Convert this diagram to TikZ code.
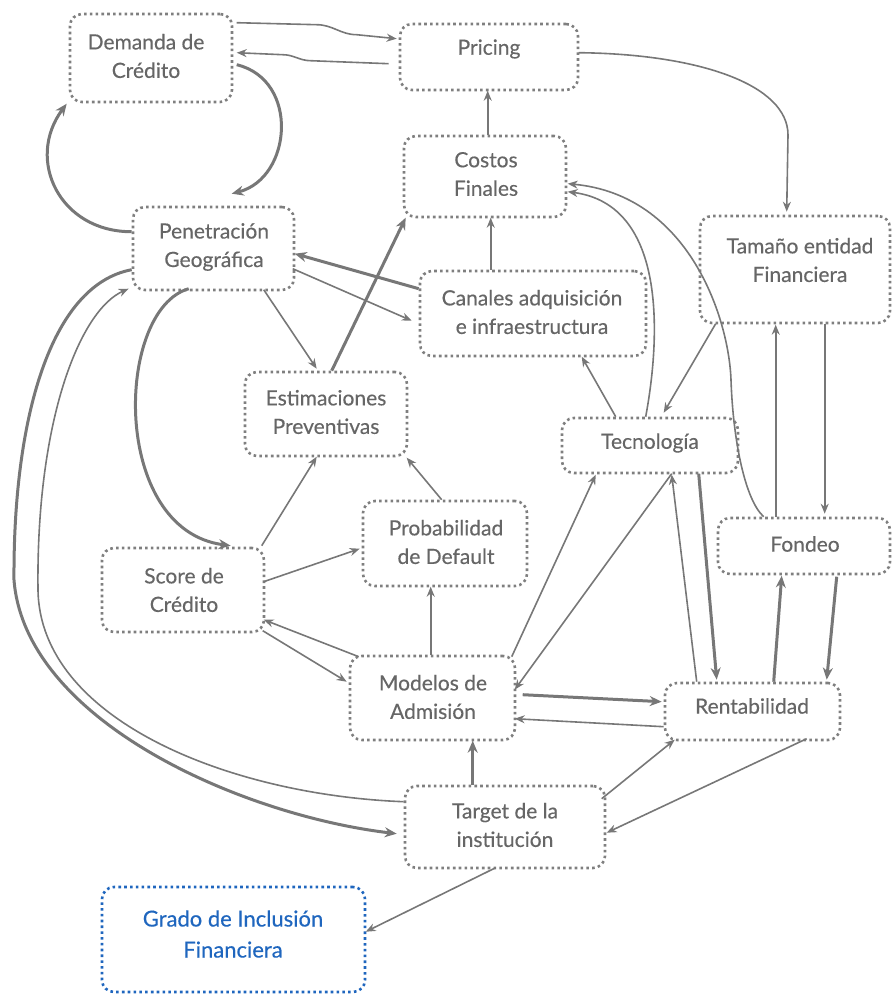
\documentclass[tikz,border=0pt]{standalone}
\usepackage{fontspec}
\setmainfont{Lato}
\newfontfamily\lblfont[FakeBold=0.35]{Lato}
\usetikzlibrary{arrows.meta,calc}
\definecolor{boxgray}{HTML}{7F7F7F}
\definecolor{txtgray}{HTML}{666666}
\definecolor{linegray}{HTML}{777777}
\definecolor{incblue}{HTML}{1F66BE}
\begin{document}
\begin{tikzpicture}[x=1pt,y=-1pt,
  box/.style={draw=boxgray, line width=2.6pt, dash pattern=on 2.6pt off 3.2pt, rounded corners=12pt, inner sep=0pt},
  bluebox/.style={box, draw=incblue},
  lbl/.style={text=txtgray, align=center, font=\lblfont\fontsize{21}{28.5}\selectfont, inner sep=0pt},
  bluelbl/.style={lbl, text=incblue, font=\lblfont\fontsize{22}{31}\selectfont},
  con/.style={draw=linegray, line width=1.6pt, -{Stealth[length=10pt,width=8pt]}},
  tcon/.style={draw=linegray, line width=3pt, -{Stealth[length=12pt,width=10pt]}}
]
\useasboundingbox (0,0) rectangle (893,996);
% boxes
\node[box, minimum width=162pt, minimum height=88pt] (dem) at (151,58) {};
\node[box, minimum width=178pt, minimum height=66pt] (pri) at (489,57) {};
\node[box, minimum width=162pt, minimum height=81pt] (cos) at (485,176.5) {};
\node[box, minimum width=161pt, minimum height=83pt] (pen) at (213.5,248.5) {};
\node[box, minimum width=190pt, minimum height=107pt] (tam) at (795,269.5) {};
\node[box, minimum width=226pt, minimum height=85pt] (can) at (533,313.5) {};
\node[box, minimum width=162pt, minimum height=84pt] (est) at (326,414) {};
\node[box, minimum width=176pt, minimum height=55pt] (tec) at (650,445.5) {};
\node[box, minimum width=164pt, minimum height=85pt] (pro) at (445,543.5) {};
\node[box, minimum width=162pt, minimum height=84pt] (sco) at (183,590) {};
\node[box, minimum width=172pt, minimum height=56pt] (fon) at (804,546) {};
\node[box, minimum width=165pt, minimum height=84pt] (mod) at (432.5,698) {};
\node[box, minimum width=175pt, minimum height=57pt] (ren) at (752.5,711.5) {};
\node[box, minimum width=200pt, minimum height=82pt] (tar) at (505,827) {};
\node[bluebox, minimum width=263pt, minimum height=105pt] (gra) at (233.5,939.5) {};
% labels
\node[lbl] (dem-t) at (146,56) {Demanda de\\Crédito};
\node[lbl] (pri-t) at (489,49) {Pricing};
\node[lbl] (cos-t) at (486,174) {Costos\\Finales};
\node[lbl] (pen-t) at (214,247) {Penetración\\Geográfica};
\node[lbl] (tam-t) at (800,260) {Tamaño entidad\\Financiera};
\node[lbl] (can-t) at (532,312) {Canales adquisición\\e infraestructura};
\node[lbl] (est-t) at (326,412) {Estimaciones\\Preventivas};
\node[lbl] (tec-t) at (650,443) {Tecnología};
\node[lbl] (pro-t) at (446,542) {Probabilidad\\de Default};
\node[lbl] (sco-t) at (184,590) {Score de\\Crédito};
\node[lbl] (fon-t) at (805,544) {Fondeo};
\node[lbl] (mod-t) at (433,697) {Modelos de\\Admisión};
\node[lbl] (ren-t) at (752,706) {Rentabilidad};
\node[lbl] (tar-t) at (505,825) {Target de la\\institución};
\node[bluelbl] (gra-t) at (233,934) {Grado de Inclusión\\Financiera};
% connectors
\draw[con] ($(dem.north west)+(168,10)$) -- ++(80,2) to[out=0,in=180] ++(40,10) -- ($(pri.north west)+(-2,16)$);
\draw[con] ($(pri.north west)+(-10,41)$) -- ++(-78,-3) to[out=180,in=0] ++(-28,-6) -- ($(dem.north west)+(168,40)$);
\draw[tcon] ($(dem.north west)+(168,52)$) .. controls (300,80) and (292,178) .. ($(pen.north west)+(100,-12)$);
\draw[tcon] ($(pen.north west)+(0,26)$) .. controls (60,232) and (25,160) .. ($(dem.north west)+(-2,91)$);
\draw[con] ($(cos.north west)+(85,0)$) -- ($(pri.north west)+(89,68)$);
\draw[con] ($(pri.north west)+(180,30)$) .. controls (700,54) and (788,85) .. (788,135) -- ($(tam.north west)+(88,-3)$);
\draw[con] ($(can.north west)+(72,0)$) -- ($(cos.north west)+(88,83)$);
\draw[tcon] ($(can.north west)+(0,19)$) -- ($(pen.north west)+(163,48)$);
\draw[con] ($(pen.north west)+(161,63)$) -- ($(can.north west)+(-7,51)$);
\draw[con] ($(pen.north west)+(132,84)$) -- ($(est.north west)+(73,-2)$);
\draw[tcon] ($(est.north west)+(88,0)$) -- ($(cos.north west)+(3,83)$);
\draw[con] ($(tec.north west)+(55,0)$) -- ($(can.north west)+(163,87)$);
\draw[con] ($(tec.north west)+(85,0)$) .. controls (660,340) and (668,205) .. ($(cos.north west)+(165,57)$);
\draw[con] ($(fon.north west)+(47,0)$) .. controls (745,500) and (733,440) .. (731,380) .. controls (729,320) and (690,195) .. ($(cos.north west)+(165,49)$);
\draw[con] ($(tam.north west)+(17,109)$) -- ($(tec.north west)+(103,-4)$);
\draw[con] ($(fon.north west)+(59,0)$) -- ($(tam.north west)+(77,110)$);
\draw[con] ($(tam.north west)+(126,109)$) -- ($(fon.north west)+(108,-3)$);
\draw[con] ($(sco.north west)+(161,-1)$) -- ($(est.north west)+(73,86)$);
\draw[con] ($(pro.north west)+(80,0)$) -- ($(est.north west)+(163,87)$);
\draw[con] ($(sco.north west)+(163,35)$) -- ($(pro.north west)+(-2,49)$);
\draw[tcon] ($(pen.north west)+(57,83)$) .. controls (115,310) and (110,530) .. ($(sco.north west)+(130,-1)$);
\draw[con] ($(mod.north west)+(82,0)$) -- ($(pro.north west)+(69,87)$);
\draw[con] ($(mod.north west)+(10,2)$) -- ($(sco.north west)+(163,73)$);
\draw[con] ($(sco.north west)+(162,84)$) -- ($(mod.north west)+(-2,27)$);
\draw[con] ($(mod.north west)+(163,2)$) -- ($(tec.north west)+(35,58)$);
\draw[con] ($(tec.north west)+(111,57)$) -- ($(mod.north west)+(166,35)$);
\draw[con] ($(ren.north west)+(33,0)$) -- ($(tec.north west)+(111,58)$);
\draw[tcon] ($(tec.north west)+(138,57)$) -- ($(ren.north west)+(53,-2)$);
\draw[tcon] ($(ren.north west)+(110,0)$) -- ($(fon.north west)+(65,59)$);
\draw[tcon] ($(fon.north west)+(120,60)$) -- ($(ren.north west)+(163,-2)$);
\draw[tcon] ($(mod.north west)+(174,40)$) -- ($(ren.north west)+(-2,20)$);
\draw[con] ($(ren.north west)+(0,45)$) -- ($(mod.north west)+(166,64)$);
\draw[tcon] ($(tar.north west)+(69,0)$) -- ($(mod.north west)+(124,86)$);
\draw[con] ($(tar.north west)+(198,14)$) -- ($(ren.north west)+(11,58)$);
\draw[con] ($(ren.north west)+(143,57)$) -- ($(tar.north west)+(203,48)$);
\draw[con] ($(tar.north west)+(92,83)$) -- ($(gra.north west)+(265,46)$);
\draw[tcon] ($(pen.north west)+(0,64)$) .. controls (50,285) and (13,420) .. (14,580) .. controls (25,720) and (240,815) .. ($(tar.north west)+(-7,49)$);
\draw[con] ($(tar.north west)+(0,17)$) .. controls (230,795) and (40,720) .. (38,590) .. controls (36,420) and (80,310) .. ($(pen.north west)+(-3,83)$);
\end{tikzpicture}
\end{document}
